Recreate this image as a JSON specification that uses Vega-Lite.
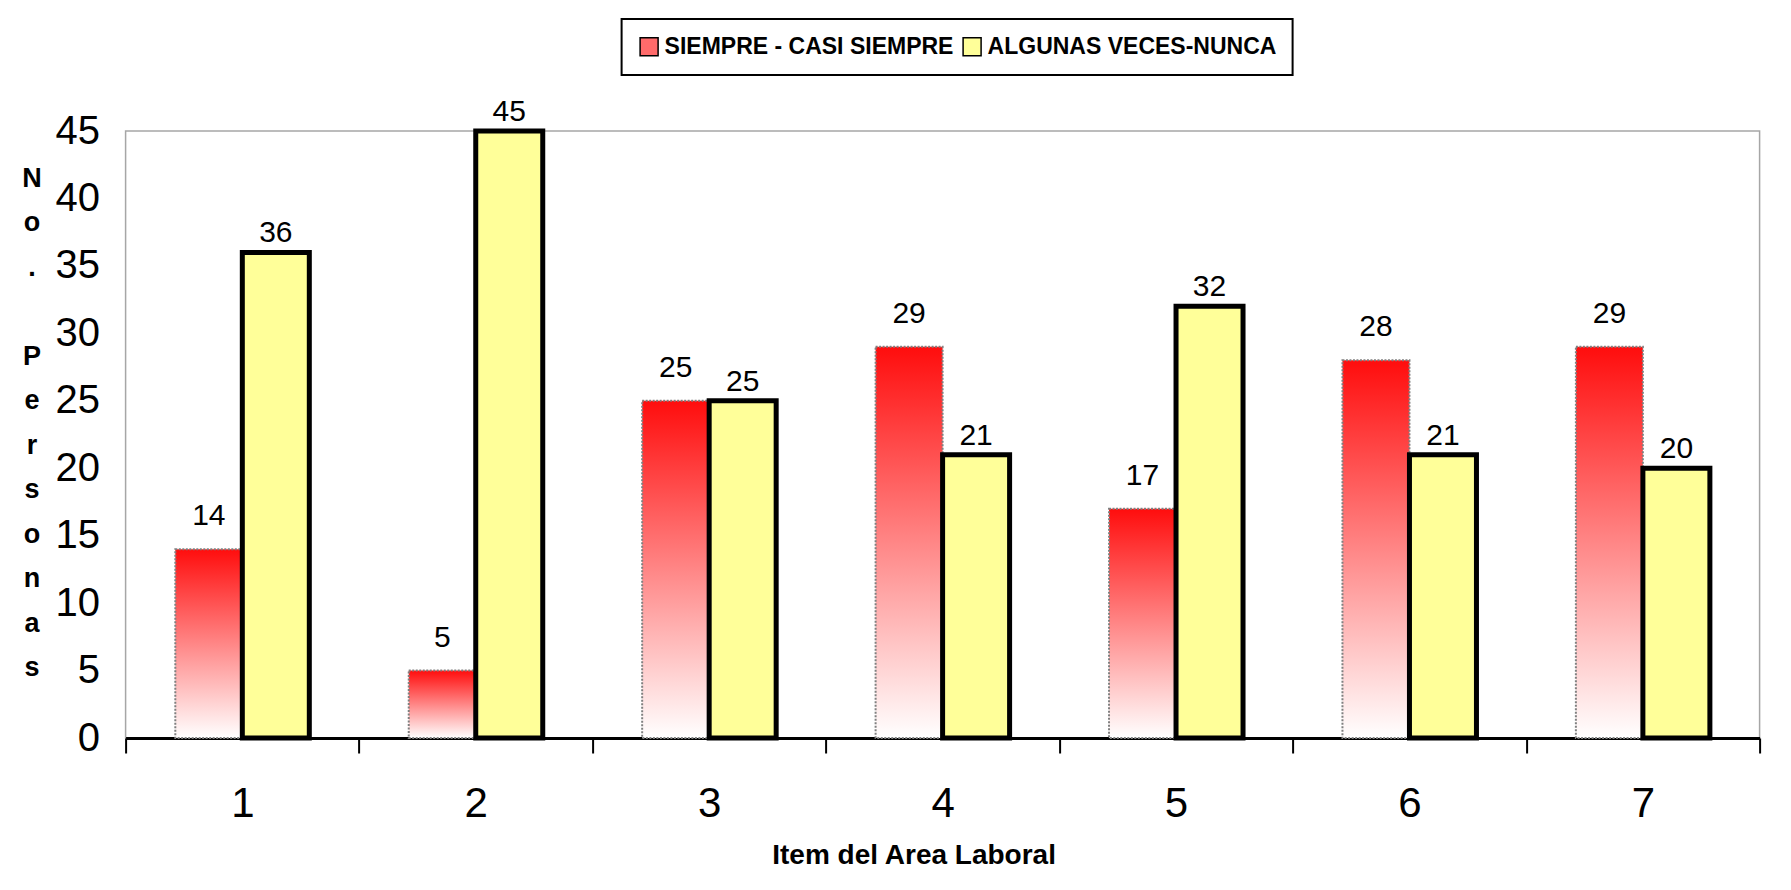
{
  "$schema": "https://vega.github.io/schema/vega-lite/v6.json",
  "width": 1634,
  "height": 607,
  "autosize": "none",
  "padding": {"left": 125.6, "top": 131, "right": 31.4, "bottom": 152},
  "background": "white",
  "config": {
    "font": "Liberation Sans, sans-serif",
    "view": {"stroke": "#a6a6a6", "strokeWidth": 1.5},
    "legend": {"strokeColor": "black", "strokeWidth": 2}
  },
  "data": {
    "values": [
      {"item": 1, "serie": "SIEMPRE - CASI SIEMPRE", "personas": 14},
      {"item": 1, "serie": "ALGUNAS VECES-NUNCA", "personas": 36},
      {"item": 2, "serie": "SIEMPRE - CASI SIEMPRE", "personas": 5},
      {"item": 2, "serie": "ALGUNAS VECES-NUNCA", "personas": 45},
      {"item": 3, "serie": "SIEMPRE - CASI SIEMPRE", "personas": 25},
      {"item": 3, "serie": "ALGUNAS VECES-NUNCA", "personas": 25},
      {"item": 4, "serie": "SIEMPRE - CASI SIEMPRE", "personas": 29},
      {"item": 4, "serie": "ALGUNAS VECES-NUNCA", "personas": 21},
      {"item": 5, "serie": "SIEMPRE - CASI SIEMPRE", "personas": 17},
      {"item": 5, "serie": "ALGUNAS VECES-NUNCA", "personas": 32},
      {"item": 6, "serie": "SIEMPRE - CASI SIEMPRE", "personas": 28},
      {"item": 6, "serie": "ALGUNAS VECES-NUNCA", "personas": 21},
      {"item": 7, "serie": "SIEMPRE - CASI SIEMPRE", "personas": 29},
      {"item": 7, "serie": "ALGUNAS VECES-NUNCA", "personas": 20}
    ]
  },
  "encoding": {
    "x": {
      "field": "item",
      "type": "ordinal",
      "scale": {"paddingInner": 0, "paddingOuter": 0},
      "axis": {
        "title": "Item  del Area Laboral",
        "labelAngle": 0,
        "labelFontSize": 42,
        "labelPadding": 30,
        "labelColor": "black",
        "domainColor": "black",
        "domainWidth": 3,
        "tickColor": "black",
        "tickWidth": 2,
        "tickSize": 15,
        "tickBand": "extent",
        "titleFontSize": 28,
        "titleFontWeight": "bold",
        "titleColor": "black",
        "titleBaseline": "top",
        "titleAlign": "center",
        "titleX": 788,
        "titleY": 103
      }
    },
    "xOffset": {
      "field": "serie",
      "type": "nominal",
      "sort": ["SIEMPRE - CASI SIEMPRE", "ALGUNAS VECES-NUNCA"],
      "scale": {"paddingInner": 0, "paddingOuter": 0.742}
    },
    "y": {
      "field": "personas",
      "type": "quantitative",
      "scale": {"domain": [0, 45], "nice": false},
      "axis": {
        "values": [0, 5, 10, 15, 20, 25, 30, 35, 40, 45],
        "title": ["N", "o", ".", "\u200b", "P", "e", "r", "s", "o", "n", "a", "s"],
        "titleAngle": 0,
        "titleAlign": "center",
        "titleBaseline": "top",
        "titleX": -94,
        "titleY": 34,
        "titleFontSize": 27,
        "titleFontWeight": "bold",
        "titleLineHeight": 44.5,
        "titleColor": "black",
        "domain": false,
        "ticks": false,
        "tickSize": 0,
        "grid": false,
        "labelFontSize": 40,
        "labelPadding": 26,
        "labelColor": "black"
      }
    }
  },
  "layer": [
    {
      "transform": [{"filter": "datum.serie === 'SIEMPRE - CASI SIEMPRE'"}],
      "mark": {
        "type": "bar",
        "fill": {"gradient": "linear", "x1": 0, "y1": 0, "x2": 0, "y2": 1,
                 "stops": [{"offset": 0, "color": "#ff0d0d"}, {"offset": 1, "color": "#ffffff"}]},
        "stroke": "#808080",
        "strokeWidth": 2,
        "strokeDash": [2, 1.5]
      }
    },
    {
      "transform": [{"filter": "datum.serie !== 'SIEMPRE - CASI SIEMPRE'"}],
      "mark": {"type": "bar", "stroke": "black", "strokeWidth": 5},
      "encoding": {
        "fill": {
          "field": "serie",
          "type": "nominal",
          "scale": {
            "domain": ["SIEMPRE - CASI SIEMPRE", "ALGUNAS VECES-NUNCA"],
            "range": ["#ff6b6b", "#ffff99"]
          },
          "legend": {
            "title": null,
            "orient": "none",
            "legendX": 496,
            "legendY": -112,
            "direction": "horizontal",
            "padding": 16,
            "symbolType": "square",
            "symbolSize": 324,
            "symbolStrokeColor": "black",
            "symbolStrokeWidth": 1.5,
            "labelFontSize": 23,
            "labelFontWeight": "bold",
            "labelColor": "black",
            "labelLimit": 500,
            "labelOffset": 4,
            "columnPadding": 6,
            "strokeColor": "black"
          }
        }
      }
    },
    {
      "transform": [{"filter": "datum.serie === 'SIEMPRE - CASI SIEMPRE'"}],
      "mark": {"type": "text", "baseline": "alphabetic", "dy": -24, "fontSize": 30, "color": "black"},
      "encoding": {"text": {"field": "personas", "type": "quantitative"}}
    },
    {
      "transform": [{"filter": "datum.serie !== 'SIEMPRE - CASI SIEMPRE'"}],
      "mark": {"type": "text", "baseline": "alphabetic", "dy": -10, "fontSize": 30, "color": "black"},
      "encoding": {"text": {"field": "personas", "type": "quantitative"}}
    }
  ]
}
